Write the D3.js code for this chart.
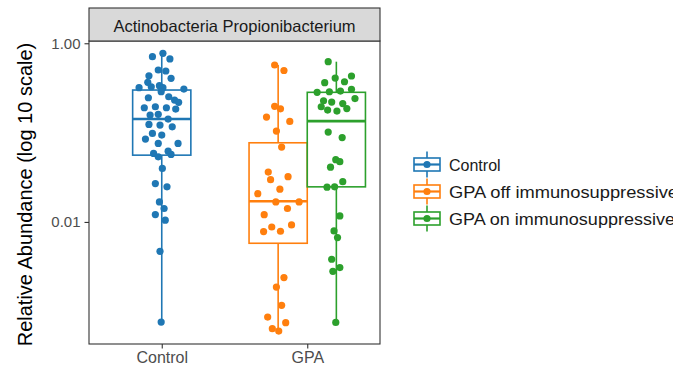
<!DOCTYPE html>
<html>
<head>
<meta charset="utf-8">
<script src="https://cdn.jsdelivr.net/npm/d3@7"></script>
<style>
  html, body { margin: 0; padding: 0; background: #fff; }
  svg { display: block; font-family: "Liberation Sans", Arial, Helvetica, sans-serif; }
</style>
</head>
<body>
<svg id="chart" width="673" height="369"></svg>
<script>
// x-axis categories and the three groups drawn as dodged boxes
const categories = ["Control", "GPA"];
const groups = ["Control", "GPA off immunosuppressive", "GPA on immunosuppressive"];
const groupCategory = ["Control", "GPA", "GPA"];
const groupColors = ["#1f77b4", "#ff7f0e", "#2ca02c"];
const facetTitle = "Actinobacteria Propionibacterium";
const yTickValues = [1, 0.01];
const yTitle = "Relative Abundance (log 10 scale)";

// Box-plot summaries per group (relative abundance)
const boxLower  = [0.000757, 0.00060, 0.00075];
const boxQ1     = [0.0559,   0.00577, 0.0247];
const boxMedian = [0.1417,   0.01706, 0.1345];
const boxQ3     = [0.2995,   0.0769,  0.2824];
const boxUpper  = [0.772,    0.571,   0.622];

// Per-sample abundances and their horizontal jitter (fraction of box width)
const controlValues = [0.708, 0.772, 0.667, 0.502, 0.489, 0.433, 0.405, 0.365, 0.335, 0.318,
  0.326, 0.318, 0.287, 0.307, 0.2455, 0.252, 0.2313, 0.218, 0.1897, 0.1946,
  0.1897, 0.1834, 0.160, 0.157, 0.1417, 0.1235, 0.1214, 0.1161, 0.098, 0.0937,
  0.0846, 0.0757, 0.0757, 0.062, 0.057, 0.0584, 0.0535, 0.0397, 0.0269, 0.0247,
  0.01676, 0.01413, 0.0121, 0.01045, 0.00469, 0.000757];
const controlJitter = [-0.16, 0.02, 0.14, -0.06, 0.07, -0.22, 0.16, -0.24, -0.04, -0.39,
  -0.18, 0.02, -0.01, 0.38, -0.23, 0.12, 0.22, 0.29, -0.30, -0.11,
  0.08, 0.24, -0.06, -0.20, 0.11, -0.22, -0.03, 0.18, -0.16, 0.00,
  -0.28, -0.06, 0.28, 0.11, 0.16, -0.14, -0.06, 0.01, -0.11, 0.09,
  -0.04, 0.04, -0.11, 0.06, -0.03, -0.01];

const gpaOffValues = [0.571, 0.4955, 0.197, 0.1844, 0.1492, 0.1335, 0.1039, 0.0688, 0.0361, 0.0321,
  0.0297, 0.02326, 0.0207, 0.01676, 0.01676, 0.01413, 0.01204, 0.00926, 0.00877, 0.0078,
  0.00786, 0.00238, 0.001867, 0.001164, 0.000861, 0.000745, 0.000638, 0.00060];
const gpaOffJitter = [-0.06, 0.10, -0.06, 0.04, -0.20, 0.20, -0.03, 0.06, -0.17, 0.17,
  -0.13, 0.03, -0.35, -0.04, 0.36, 0.16, -0.24, 0.23, -0.11, -0.25,
  0.04, 0.10, -0.03, 0.06, -0.18, 0.13, -0.10, 0.01];

const gpaOnValues = [0.622, 0.408, 0.430, 0.3617, 0.371, 0.2823, 0.2867, 0.2919, 0.305, 0.2272,
  0.2197, 0.2114, 0.2405, 0.1946, 0.1788, 0.1742, 0.1858, 0.1013, 0.0879, 0.0498,
  0.0473, 0.041, 0.0245, 0.0247, 0.0282, 0.01168, 0.00793, 0.00668, 0.00382, 0.00308,
  0.0028, 0.00075];
const gpaOnJitter = [-0.14, -0.02, 0.26, -0.20, 0.14, -0.33, -0.12, 0.07, 0.26, -0.22,
  -0.08, 0.11, 0.32, -0.26, -0.15, 0.01, 0.18, -0.14, 0.10, -0.01,
  0.06, -0.10, -0.16, -0.03, 0.11, 0.06, -0.04, 0.02, -0.08, 0.06,
  -0.06, -0.01];

const groupValues = [controlValues, gpaOffValues, gpaOnValues];
const groupJitter = [controlJitter, gpaOffJitter, gpaOnJitter];

// ---- layout ----
const svg = d3.select("#chart");
const panel = { left: 89, right: 380, top: 41, bottom: 344 };
const stripTop = 8;
const ink = "#333333";
const tickText = "#4d4d4d";
// rendered widths of the longer legend labels (wide-set face)
const legendLabelWidth = [null, 229, 226];

const x = d3.scalePoint().domain(categories).range([panel.left, panel.right]).padding(0.5);
const y = d3.scaleLog().domain([0.00043, 1.06]).range([panel.bottom, panel.top]);

const boxWidth = x.step() * 0.4;

// dodge groups that share a category
function groupCenter(i) {
  const cat = groupCategory[i];
  const members = groups.map((g, k) => k).filter(k => groupCategory[k] === cat);
  const pos = members.indexOf(i);
  const offset = (pos - (members.length - 1) / 2) * boxWidth;
  return x(cat) + offset;
}

// panel background
svg.append("rect")
  .attr("x", panel.left).attr("y", panel.top)
  .attr("width", panel.right - panel.left).attr("height", panel.bottom - panel.top)
  .attr("fill", "#fff");

// boxes and whiskers
const boxG = svg.append("g");
groups.forEach((g, i) => {
  const cx = groupCenter(i);
  const c = groupColors[i];
  const gg = boxG.append("g").attr("stroke", c).attr("stroke-width", 1.6).attr("fill", "none");
  gg.append("line").attr("x1", cx).attr("x2", cx).attr("y1", y(boxUpper[i])).attr("y2", y(boxQ3[i]));
  gg.append("line").attr("x1", cx).attr("x2", cx).attr("y1", y(boxQ1[i])).attr("y2", y(boxLower[i]));
  gg.append("rect")
    .attr("x", cx - boxWidth / 2).attr("y", y(boxQ3[i]))
    .attr("width", boxWidth).attr("height", y(boxQ1[i]) - y(boxQ3[i]));
  gg.append("line")
    .attr("x1", cx - boxWidth / 2).attr("x2", cx + boxWidth / 2)
    .attr("y1", y(boxMedian[i])).attr("y2", y(boxMedian[i]))
    .attr("stroke-width", 2.6);
});

// jittered sample points
const ptG = svg.append("g");
groups.forEach((g, i) => {
  const cx = groupCenter(i);
  ptG.append("g").selectAll("circle")
    .data(groupValues[i].map((v, k) => ({ v, j: groupJitter[i][k] })))
    .join("circle")
    .attr("cx", d => cx + d.j * boxWidth)
    .attr("cy", d => y(d.v))
    .attr("r", 3.6)
    .attr("fill", groupColors[i]);
});

// panel border
svg.append("rect")
  .attr("x", panel.left).attr("y", panel.top)
  .attr("width", panel.right - panel.left).attr("height", panel.bottom - panel.top)
  .attr("fill", "none").attr("stroke", ink).attr("stroke-width", 1.1);

// facet strip
svg.append("rect")
  .attr("x", panel.left).attr("y", stripTop)
  .attr("width", panel.right - panel.left).attr("height", panel.top - stripTop)
  .attr("fill", "#d9d9d9").attr("stroke", ink).attr("stroke-width", 1.1);
svg.append("text")
  .attr("x", (panel.left + panel.right) / 2).attr("y", (stripTop + panel.top) / 2 + 1)
  .attr("text-anchor", "middle").attr("dominant-baseline", "central")
  .attr("font-size", 16.5).attr("fill", "#1a1a1a")
  .text(facetTitle);

// y axis
const yAxis = svg.append("g")
  .attr("transform", `translate(${panel.left},0)`)
  .call(d3.axisLeft(y).tickValues(yTickValues).tickFormat(d3.format(".2f")).tickSize(4.5).tickPadding(4));
yAxis.select(".domain").remove();
yAxis.selectAll(".tick line").attr("stroke", ink).attr("stroke-width", 1.1);
yAxis.selectAll(".tick text").attr("font-size", 15).attr("fill", tickText)
  .attr("font-family", "Liberation Sans, Arial, sans-serif");

// x axis
const xAxis = svg.append("g")
  .attr("transform", `translate(0,${panel.bottom})`)
  .call(d3.axisBottom(x).tickSize(4.5).tickPadding(3));
xAxis.select(".domain").remove();
xAxis.selectAll(".tick line").attr("stroke", ink).attr("stroke-width", 1.1);
xAxis.selectAll(".tick text").attr("font-size", 16).attr("fill", tickText)
  .attr("font-family", "Liberation Sans, Arial, sans-serif");

// y title
svg.append("text")
  .attr("transform", `translate(25,${(panel.top + panel.bottom) / 2 + 2}) rotate(-90)`)
  .attr("text-anchor", "middle").attr("dominant-baseline", "central")
  .attr("font-size", 20).attr("fill", "#000")
  .text(yTitle);

// legend
const legend = svg.append("g").attr("transform", "translate(414,164.5)");
const keyW = 26, rowH = 27;
groups.forEach((g, i) => {
  const row = legend.append("g").attr("transform", `translate(0,${i * rowH})`);
  const c = groupColors[i];
  row.append("line").attr("x1", keyW / 2).attr("x2", keyW / 2).attr("y1", -13).attr("y2", 13)
    .attr("stroke", c).attr("stroke-width", 1.6);
  row.append("rect").attr("x", 0).attr("y", -6.5).attr("width", keyW).attr("height", 13)
    .attr("fill", "#fff").attr("stroke", c).attr("stroke-width", 1.6);
  row.append("line").attr("x1", 0).attr("x2", keyW).attr("y1", 0).attr("y2", 0)
    .attr("stroke", c).attr("stroke-width", 2.2);
  row.append("circle").attr("cx", keyW / 2).attr("cy", 0).attr("r", 3.6).attr("fill", c);
  const t = row.append("text").attr("x", 35).attr("y", 0.5)
    .attr("dominant-baseline", "central").attr("font-size", 16).attr("fill", "#1a1a1a")
    .text(g);
  if (legendLabelWidth[i]) {
    t.attr("textLength", legendLabelWidth[i]).attr("lengthAdjust", "spacingAndGlyphs");
  }
});
</script>
</body>
</html>
